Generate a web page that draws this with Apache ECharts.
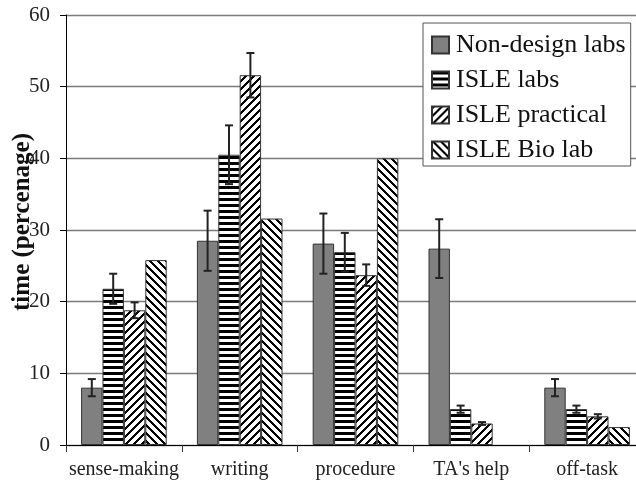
<!DOCTYPE html>
<html>
<head>
<meta charset="utf-8">
<script src="https://cdn.jsdelivr.net/npm/echarts@6/dist/echarts.min.js"></script>
<style>
  html, body { margin: 0; padding: 0; background: #fff; }
  #chart { width: 636px; height: 485px; }
</style>
</head>
<body>
<div id="chart"></div>
<script>
// Activity categories along the x axis
const categories = ['sense-making', 'writing', 'procedure', "TA's help", 'off-task'];

// Mean share of time (percent) for each lab type
const nonDesign     = [8.0, 28.5, 28.1, 27.4, 8.0];
const isleLabs      = [21.8, 40.5, 26.9, 5.0, 5.0];
const islePractical = [18.8, 51.6, 23.7, 3.0, 4.0];
const isleBio       = [25.8, 31.6, 40.0, null, 2.5];

// Half-length of the error bars
const nonDesignErr     = [1.2, 4.2, 4.2, 4.1, 1.2];
const isleLabsErr      = [2.1, 4.1, 2.7, 0.5, 0.5];
const islePracticalErr = [1.1, 3.1, 1.5, 0.2, 0.3];

const seriesNames = ['Non-design labs', 'ISLE labs', 'ISLE practical', 'ISLE Bio lab'];
const yTicks = { min: 0, max: 60, step: 10 };

const SERIF = '"Liberation Serif", "DejaVu Serif", serif';
const BAR_W = 21.4;

// Black-and-white hatch fills built pixel by pixel
function makePattern(w, h, isInk) {
  const c = document.createElement('canvas');
  c.width = w; c.height = h;
  const ctx = c.getContext('2d');
  ctx.fillStyle = '#fff';
  ctx.fillRect(0, 0, w, h);
  ctx.fillStyle = '#000';
  for (let y = 0; y < h; y++) {
    for (let x = 0; x < w; x++) {
      if (isInk(x, y)) ctx.fillRect(x, y, 1, 1);
    }
  }
  return { image: c, repeat: 'repeat' };
}
const horizPattern = makePattern(4, 6, (x, y) => y < 3);
const slashPattern = makePattern(8, 8, (x, y) => ((x + y) % 8) < 3);
const backPattern  = makePattern(8, 8, (x, y) => ((x - y + 8) % 8) < 3);

const fills = ['#808080', horizPattern, slashPattern, backPattern];
const values = [nonDesign, isleLabs, islePractical, isleBio];
const errs = [nonDesignErr, isleLabsErr, islePracticalErr, null];

const barSeries = seriesNames.map((name, i) => ({
  name: name,
  type: 'bar',
  data: values[i],
  barWidth: BAR_W,
  barGap: '0%',
  itemStyle: { color: fills[i], borderColor: '#333', borderWidth: 1 },
  emphasis: { disabled: true },
  z: 2
}));

// Error-bar data: [category index, mean, half-length, series index]
const errData = [];
errs.forEach((arr, s) => {
  if (!arr) return;
  arr.forEach((e, k) => {
    if (e != null && values[s][k] != null) errData.push([k, values[s][k], e, s]);
  });
});

const errorSeries = {
  type: 'custom',
  name: 'error',
  data: errData,
  encode: { x: 0, y: 1 },
  z: 5,
  silent: true,
  renderItem: function (params, api) {
    const k = api.value(0), v = api.value(1), e = api.value(2), s = api.value(3);
    const cx = api.coord([k, v])[0] + (s - 1.5) * BAR_W;
    const yTop = api.coord([k, v + e])[1];
    const yBot = api.coord([k, v - e])[1];
    const cap = 4;
    const style = { stroke: '#222', lineWidth: 2 };
    return {
      type: 'group',
      children: [
        { type: 'line', shape: { x1: cx, y1: yTop, x2: cx, y2: yBot }, style: style },
        { type: 'line', shape: { x1: cx - cap, y1: yTop, x2: cx + cap, y2: yTop }, style: style },
        { type: 'line', shape: { x1: cx - cap, y1: yBot, x2: cx + cap, y2: yBot }, style: style }
      ]
    };
  }
};

const chart = echarts.init(document.getElementById('chart'), null, { renderer: 'canvas' });
chart.setOption({
  animation: false,
  backgroundColor: '#fff',
  textStyle: { fontFamily: SERIF },
  grid: { left: 66, right: -9, top: 15, bottom: 40, containLabel: false, outerBoundsMode: 'none' },
  legend: {
    data: seriesNames,
    orient: 'vertical',
    left: 423,
    top: 23,
    padding: [9, 5, 3, 8],
    itemGap: 9,
    itemWidth: 17,
    itemHeight: 17,
    icon: 'rect',
    backgroundColor: '#fff',
    borderColor: '#555',
    borderWidth: 1,
    selectedMode: false,
    textStyle: { fontFamily: SERIF, fontSize: 26, color: '#111', padding: [0, 0, 0, 2] },
    z: 10
  },
  xAxis: {
    type: 'category',
    data: categories,
    boundaryGap: true,
    axisLine: { lineStyle: { color: '#000', width: 1 } },
    axisTick: { show: true, length: 7, lineStyle: { color: '#333' } },
    axisLabel: { fontFamily: SERIF, fontSize: 20, color: '#222', margin: 15, interval: 0, hideOverlap: false },
    splitLine: { show: false }
  },
  yAxis: {
    type: 'value',
    min: yTicks.min,
    max: yTicks.max,
    interval: yTicks.step,
    name: 'time (percenage)',
    nameLocation: 'middle',
    nameRotate: 90,
    nameGap: 31,
    nameMoveOverlap: false,
    nameTextStyle: { fontFamily: SERIF, fontSize: 25, fontWeight: 'bold', color: '#111', padding: [0, 0, 0, 16] },
    axisLine: { show: true, lineStyle: { color: '#000', width: 1 } },
    axisTick: { show: true, length: 6, lineStyle: { color: '#000' } },
    axisLabel: { fontFamily: SERIF, fontSize: 21, color: '#222', margin: 16 },
    splitLine: { show: true, lineStyle: { color: '#7a7a7a', width: 1.3 } }
  },
  series: barSeries.concat([errorSeries])
});
</script>
</body>
</html>
